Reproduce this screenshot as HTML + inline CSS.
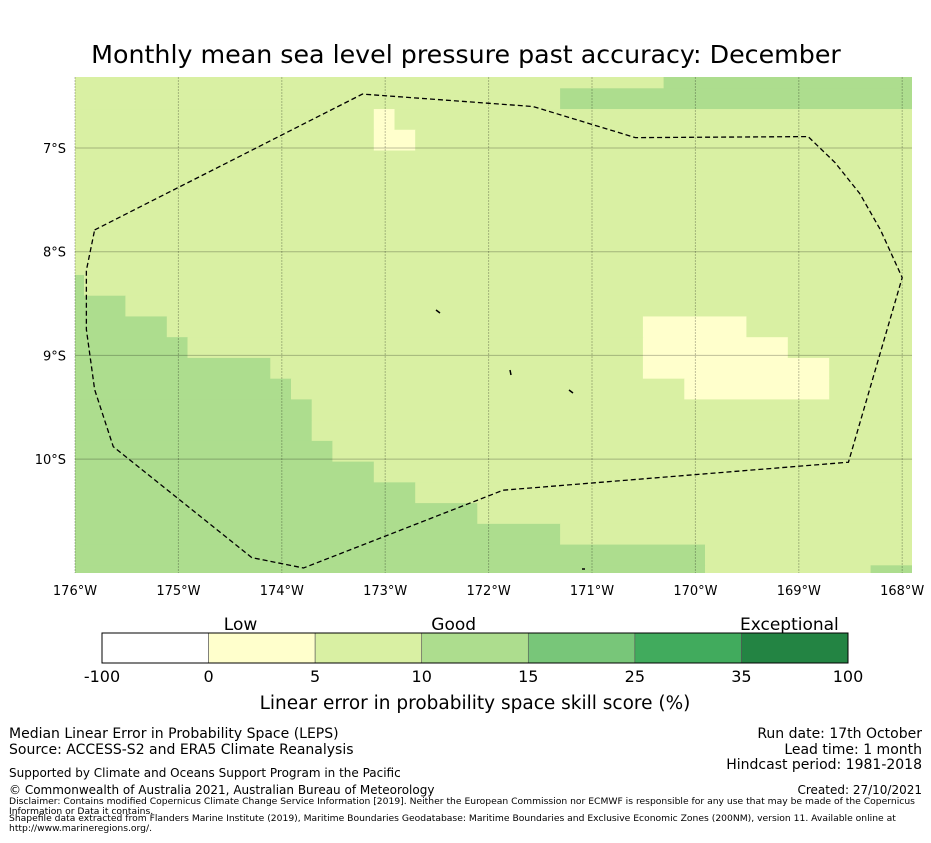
<!DOCTYPE html>
<html><head><meta charset="utf-8"><style>
body{margin:0;background:#fff;width:931px;height:839px;overflow:hidden;font-family:"DejaVu Sans","Liberation Sans",sans-serif}
svg text{font-family:"DejaVu Sans","Liberation Sans",sans-serif}
</style></head><body>
<svg id="chart" width="931" height="839" xmlns="http://www.w3.org/2000/svg">
<text x="466" y="63" font-size="25.3" text-anchor="middle">Monthly mean sea level pressure past accuracy: December</text>
<g id="cells"></g>
<g id="grid"></g>
<g id="eez"></g>
<g id="axes"></g>
<g id="cbar"></g>
<text x="475" y="709" font-size="18.5" text-anchor="middle">Linear error in probability space skill score (%)</text>
<g font-size="14">
<text x="9" y="738">Median Linear Error in Probability Space (LEPS)</text>
<text x="9" y="754">Source: ACCESS-S2 and ERA5 Climate Reanalysis</text>
<text x="9" y="777" font-size="12">Supported by Climate and Oceans Support Program in the Pacific</text>
<text x="9" y="794" font-size="12">© Commonwealth of Australia 2021, Australian Bureau of Meteorology</text>
</g>
<g font-size="14" text-anchor="end">
<text x="922" y="738">Run date: 17th October</text>
<text x="922" y="754">Lead time: 1 month</text>
<text x="922" y="769">Hindcast period: 1981-2018</text>
<text x="922" y="794" font-size="12">Created: 27/10/2021</text>
</g>
<g font-size="9.2">
<text x="9" y="804">Disclaimer: Contains modified Copernicus Climate Change Service Information [2019]. Neither the European Commission nor ECMWF is responsible for any use that may be made of the Copernicus</text>
<text x="9" y="814">Information or Data it contains.</text>
<text x="9" y="821">Shapefile data extracted from Flanders Marine Institute (2019), Maritime Boundaries Geodatabase: Maritime Boundaries and Exclusive Economic Zones (200NM), version 11. Available online at</text>
<text x="9" y="831">http://www.marineregions.org/.</text>
</g>
</svg>
<script>
// run-length encoded skill classes per grid row (class, count, ...), rows from top
const rowRuns = [
[2,29,3,12],
[2,24,3,17],
[2,15,1,1,2,25],
[2,15,1,2,2,24],
[2,41],[2,41],[2,41],[2,41],[2,41],[2,41],
[3,1,2,40],
[3,3,2,38],
[3,5,2,23,1,5,2,8],
[3,6,2,22,1,7,2,6],
[3,10,2,18,1,9,2,4],
[3,11,2,19,1,7,2,4],
[3,12,2,29],
[3,12,2,29],
[3,13,2,28],
[3,15,2,26],
[3,17,2,24],
[3,20,2,21],
[3,24,2,17],
[3,31,2,10],
[3,31,2,8,3,2]
];
const classColors = ["#ffffff","#ffffcc","#d9f0a3","#addd8e","#78c679","#41ab5d","#238443"];
const lonTicks = [-176,-175,-174,-173,-172,-171,-170,-169,-168];
const latTicks = [-7,-8,-9,-10];
const boundaryLon = [-175.81,-173.22,-171.57,-170.58,-168.91,-168.65,-168.41,-168.21,-168.00,-168.52,-171.86,-173.79,-174.29,-175.63,-175.81,-175.89,-175.89,-175.81];
const boundaryLat = [-7.79,-6.48,-6.60,-6.90,-6.89,-7.14,-7.44,-7.79,-8.25,-10.03,-10.30,-11.05,-10.95,-9.88,-9.33,-8.75,-8.18,-7.79];
const cbarTicks = ["-100","0","5","10","15","25","35","100"];
const cbarCategories = ["Low","Good","Exceptional"];
const cbarCategoryPos = [1.3,3.3,6.45];

const NS="http://www.w3.org/2000/svg";
const MX0=75,MX1=912,MY0=77,MY1=573;
function xLon(lon){return MX0+(lon+176)*103.4;}
function yLat(lat){return 148+(-7-lat)*103.7;}
function colX(c){return Math.min(MX1,Math.max(MX0,84+c*20.7));}
function rowY(r){return Math.min(MY1,Math.max(MY0,88.3+r*20.74));}
function mk(tag,attrs,parent){const e=document.createElementNS(NS,tag);for(const k in attrs)e.setAttribute(k,attrs[k]);parent.appendChild(e);return e;}

const cells=document.getElementById('cells');
rowRuns.forEach((runs,ri)=>{
  const r=ri-1;let c=-1;
  for(let i=0;i<runs.length;i+=2){
    const cls=runs[i],n=runs[i+1];
    const x0=colX(c),x1=colX(c+n),y0=rowY(r),y1=rowY(r+1);
    const el=mk('rect',{x:x0,y:y0,width:Math.min(MX1,x1+0.5)-x0,height:Math.min(MY1,y1+0.5)-y0,fill:classColors[cls]},cells);
    
    
    c+=n;
  }
});

const grid=document.getElementById('grid');
lonTicks.forEach(l=>{
  const el=mk('line',{x1:xLon(l),x2:xLon(l),y1:MY0,y2:MY1,stroke:"#000","stroke-opacity":0.25,"stroke-width":1,"stroke-dasharray":"2,1"},grid);
  
  
});
latTicks.forEach(l=>{
  const el=mk('line',{x1:MX0,x2:MX1,y1:yLat(l),y2:yLat(l),stroke:"#000","stroke-opacity":0.25,"stroke-width":1},grid);
  
  
});

const eez=document.getElementById('eez');
const pts=boundaryLon.map((lo,i)=>xLon(lo)+','+yLat(boundaryLat[i])).join(' ');
const poly=mk('polyline',{points:pts,fill:"none",stroke:"#000","stroke-width":1.3,"stroke-dasharray":"5,3"},eez);


[[436,310,440,313],[510,370,511,375],[569,390,573,393],[582,569,585,569]].forEach(p=>{
  const el=mk('line',{x1:p[0],y1:p[1],x2:p[2],y2:p[3],stroke:"#000","stroke-width":1.5},eez);
  
  
});

const axes=document.getElementById('axes');
lonTicks.forEach(l=>{
  const t=mk('text',{x:xLon(l),y:595,"font-size":13,"text-anchor":"middle"},axes);
  t.textContent=Math.abs(l)+'°W';
  
  
});
latTicks.forEach(l=>{
  const t=mk('text',{x:66,y:yLat(l)+5,"font-size":13,"text-anchor":"end"},axes);
  t.textContent=Math.abs(l)+'°S';
  
  
});

const cbar=document.getElementById('cbar');
const CB0=102,CB1=848,CBW=(CB1-CB0)/7;
for(let i=0;i<7;i++){
  const el=mk('rect',{x:CB0+i*CBW,y:633,width:CBW,height:30,fill:classColors[i],stroke:"#555","stroke-width":0.6},cbar);
  
  
}
const fr=mk('rect',{x:CB0,y:633,width:CB1-CB0,height:30,fill:"none",stroke:"#000","stroke-width":1},cbar);


cbarTicks.forEach((t,i)=>{
  const el=mk('text',{x:CB0+i*CBW,y:682,"font-size":16,"text-anchor":"middle"},cbar);
  el.textContent=t;
  
  
});
cbarCategories.forEach((t,i)=>{
  const el=mk('text',{x:CB0+cbarCategoryPos[i]*CBW,y:630,"font-size":17,"text-anchor":"middle"},cbar);
  el.textContent=t;
  
  
});
</script>
</body></html>
